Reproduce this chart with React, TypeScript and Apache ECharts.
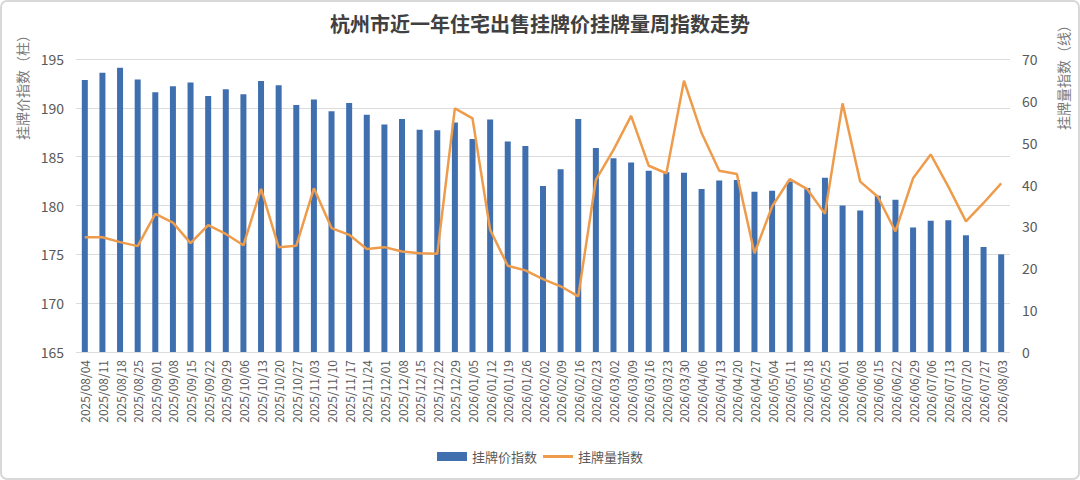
import React, { useEffect, useRef } from "react";
import * as echarts from "echarts";

const weeks = [
  "2025/08/04","2025/08/11","2025/08/18","2025/08/25","2025/09/01","2025/09/08","2025/09/15","2025/09/22","2025/09/29",
  "2025/10/06","2025/10/13","2025/10/20","2025/10/27","2025/11/03","2025/11/10","2025/11/17","2025/11/24",
  "2025/12/01","2025/12/08","2025/12/15","2025/12/22","2025/12/29","2026/01/05","2026/01/12","2026/01/19","2026/01/26",
  "2026/02/02","2026/02/09","2026/02/16","2026/02/23","2026/03/02","2026/03/09","2026/03/16","2026/03/23","2026/03/30",
  "2026/04/06","2026/04/13","2026/04/20","2026/04/27","2026/05/04","2026/05/11","2026/05/18","2026/05/25",
  "2026/06/01","2026/06/08","2026/06/15","2026/06/22","2026/06/29","2026/07/06","2026/07/13","2026/07/20","2026/07/27","2026/08/03",
];

const priceIndex = [
  192.85, 193.6, 194.1, 192.9, 191.6, 192.2, 192.6, 191.2, 191.9,
  191.4, 192.75, 192.3, 190.3, 190.85, 189.65, 190.5, 189.3,
  188.3, 188.85, 187.75, 187.7, 188.5, 186.8, 188.8, 186.55, 186.1,
  182.0, 183.7, 188.85, 185.9, 184.85, 184.4, 183.55, 183.4, 183.35,
  181.7, 182.55, 182.6, 181.4, 181.5, 182.45, 181.8, 182.85,
  180.0, 179.5, 181.0, 180.6, 177.75, 178.45, 178.5, 176.95, 175.75, 175.0,
];

const volumeIndex = [
  27.4, 27.4, 26.25, 25.3, 33.0, 30.9, 26.0, 30.3, 28.2,
  25.5, 39.0, 25.05, 25.4, 39.1, 29.6, 28.0, 24.6,
  25.05, 24.0, 23.6, 23.45, 58.2, 55.8, 29.2, 20.6, 19.5,
  17.4, 15.7, 13.3, 41.1, 48.3, 56.4, 44.5, 42.7, 64.8,
  52.3, 43.3, 42.55, 23.6, 34.75, 41.3, 38.9, 33.0,
  59.4, 40.7, 37.1, 28.8, 41.5, 47.2, 39.5, 31.2, 35.6, 40.3,
];

const leftTicks = { min: 165, max: 195, interval: 5 };
const rightTicks = { min: 0, max: 70, interval: 10 };

const titleText = "杭州市近一年住宅出售挂牌价挂牌量周指数走势";
const priceName = "挂牌价指数";
const volumeName = "挂牌量指数";
const leftAxisName = "挂牌价指数（柱）";
const rightAxisName = "挂牌量指数（线）";

export default function App() {
  const ref = useRef<HTMLDivElement>(null);
  useEffect(() => {
    document.body.style.margin = "0";
    if (!ref.current) return;
    const chart = echarts.init(ref.current, undefined, { renderer: "svg" });
    const font = "'Noto Sans CJK SC', 'Noto Sans', sans-serif";
    const labelColor = "#595959";
    chart.setOption({
      animation: false,
      backgroundColor: "#ffffff",
      textStyle: { fontFamily: font },
      title: {
        text: titleText,
        left: "center",
        top: 8,
        textStyle: { fontSize: 20, fontWeight: "bold", color: "#404040", fontFamily: font },
      },
      legend: {
        bottom: 12,
        left: "center",
        itemGap: 6,
        itemWidth: 30,
        itemHeight: 9,
        textStyle: { fontSize: 13, color: labelColor, fontFamily: font },
        data: [
          { name: priceName, icon: "rect" },
          { name: volumeName, icon: "path://M0 0h30v3H0z" },
        ],
      },
      grid: { left: 76, right: 70, top: 59, bottom: 128 },
      xAxis: {
        type: "category",
        data: weeks,
        axisLine: { show: false },
        axisTick: { show: false },
        axisLabel: { rotate: 90, interval: 0, fontSize: 12, color: labelColor, margin: 8, fontFamily: font },
      },
      yAxis: [
        {
          type: "value",
          min: leftTicks.min,
          max: leftTicks.max,
          interval: leftTicks.interval,
          axisLine: { show: false },
          axisTick: { show: false },
          axisLabel: { fontSize: 14, color: labelColor, margin: 12, fontFamily: font },
          splitLine: { lineStyle: { color: "#dcdcdc", width: 1 } },
        },
        {
          type: "value",
          min: rightTicks.min,
          max: rightTicks.max,
          interval: rightTicks.interval,
          axisLine: { show: false },
          axisTick: { show: false },
          axisLabel: { fontSize: 14, color: labelColor, margin: 12, fontFamily: font },
          splitLine: { show: false },
        },
      ],
      graphic: [
        {
          type: "rect",
          shape: { x: 1, y: 1, width: 1078, height: 478, r: 6 },
          style: { fill: "none", stroke: "#d8d8d8", lineWidth: 2 },
          silent: true,
        },
        {
          type: "text",
          x: 22,
          y: 84,
          rotation: Math.PI / 2,
          style: { text: leftAxisName, fontSize: 14, fill: "#7a7a7a", align: "center", verticalAlign: "middle", fontFamily: font },
        },
        {
          type: "text",
          x: 1063,
          y: 74,
          rotation: Math.PI / 2,
          style: { text: rightAxisName, fontSize: 14, fill: "#7a7a7a", align: "center", verticalAlign: "middle", fontFamily: font },
        },
      ],
      series: [
        {
          name: priceName,
          type: "bar",
          yAxisIndex: 0,
          data: priceIndex,
          barWidth: 6,
          itemStyle: { color: "#3f6fae" },
        },
        {
          name: volumeName,
          type: "line",
          yAxisIndex: 1,
          data: volumeIndex,
          symbol: "none",
          lineStyle: { color: "#ee9c4c", width: 2.5 },
          itemStyle: { color: "#ee9c4c" },
        },
      ],
    });
    return () => chart.dispose();
  }, []);
  return <div ref={ref} style={{ width: 1080, height: 480 }} />;
}
